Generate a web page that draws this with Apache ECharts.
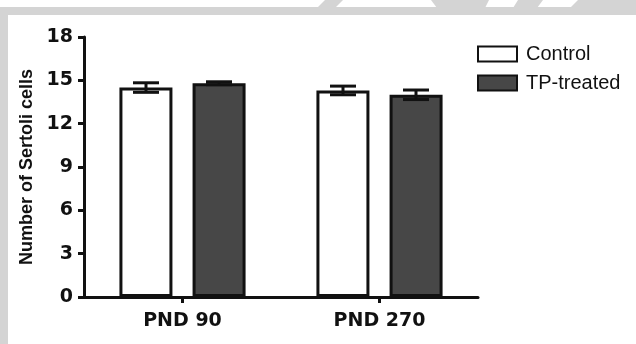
<!DOCTYPE html>
<html>
<head>
<meta charset="utf-8">
<script src="https://cdn.jsdelivr.net/npm/echarts@6/dist/echarts.min.js"></script>
<style>
html,body{margin:0;padding:0;background:#fff;}
#chart{width:636px;height:344px;}
</style>
</head>
<body>
<div id="chart"></div>
<script>
// ---- data ----
const categories = ['PND 90', 'PND 270'];
const controlMean = [14.5, 14.3];
const controlErr = [0.33, 0.3];
const treatedMean = [14.8, 14.0];
const treatedErr = [0.1, 0.33];
const yTicks = [0, 3, 6, 9, 12, 15, 18];
const seriesNames = ['Control', 'TP-treated'];

const chart = echarts.init(document.getElementById('chart'), null, {renderer: 'canvas'});

const BAR_OFFSET = 36.5;
const CAP_HALF = 13;

function errRender(offset) {
  return function (params, api) {
    const ci = api.value(0);
    const m = api.value(1);
    const e = api.value(2);
    const x = api.coord([ci, m])[0] + offset;
    const yHi = api.coord([ci, m + e])[1];
    const yLo = api.coord([ci, m - e])[1];
    const st = {stroke: '#111', lineWidth: 3};
    return {
      type: 'group',
      children: [
        {type: 'line', shape: {x1: x, y1: yHi, x2: x, y2: yLo}, style: st},
        {type: 'line', shape: {x1: x - CAP_HALF, y1: yHi, x2: x + CAP_HALF, y2: yHi}, style: st},
        {type: 'line', shape: {x1: x - CAP_HALF, y1: yLo, x2: x + CAP_HALF, y2: yLo}, style: st}
      ]
    };
  };
}

const gray = '#d4d4d4';
const option = {
  backgroundColor: '#ffffff',
  animation: false,
  graphic: [
    {type: 'polygon', shape: {points: [[325, 0], [343, 0], [335, 8], [317, 8]]}, style: {fill: gray}, silent: true},
    {type: 'polygon', shape: {points: [[431, 0], [489, 0], [485, 8], [437, 8]]}, style: {fill: gray}, silent: true},
    {type: 'polygon', shape: {points: [[518, 0], [543, 0], [537, 8], [513, 8]]}, style: {fill: gray}, silent: true},
    {type: 'polygon', shape: {points: [[578, 0], [636, 0], [636, 8], [570, 8]]}, style: {fill: gray}, silent: true},
    {type: 'rect', shape: {x: 0, y: 7, width: 636, height: 8}, style: {fill: gray}, silent: true},
    {type: 'rect', shape: {x: 0, y: 7, width: 8, height: 337}, style: {fill: gray}, silent: true}
  ],
  grid: {left: 84, right: 158, top: 37, bottom: 47, containLabel: false},
  legend: {
    data: seriesNames,
    orient: 'vertical',
    left: 477,
    top: 44,
    padding: 0,
    icon: 'rect',
    itemWidth: 39,
    itemHeight: 15,
    itemGap: 9,
    textStyle: {fontFamily: 'Liberation Sans, Arial, sans-serif', fontSize: 20, color: '#111', padding: [0, 0, 0, 4]}
  },
  xAxis: {
    type: 'category',
    data: categories,
    boundaryGap: true,
    axisLine: {lineStyle: {color: '#111', width: 3}},
    axisTick: {show: true, alignWithLabel: true, length: 6, lineStyle: {color: '#111', width: 3}},
    axisLabel: {margin: 15, fontFamily: 'DejaVu Sans, sans-serif', fontWeight: 'bold', fontSize: 19, color: '#111'},
    splitLine: {show: false}
  },
  yAxis: {
    type: 'value',
    min: 0,
    max: 18,
    interval: 3,
    name: 'Number of Sertoli cells',
    nameLocation: 'middle',
    nameRotate: 90,
    nameGap: 42,
    nameTextStyle: {fontFamily: 'Liberation Sans, Arial, sans-serif', fontWeight: 'bold', fontSize: 18, color: '#111'},
    axisLine: {show: true, lineStyle: {color: '#111', width: 3}},
    axisTick: {show: true, length: 6, lineStyle: {color: '#111', width: 3}},
    axisLabel: {margin: 11, fontFamily: 'DejaVu Sans, sans-serif', fontWeight: 'bold', fontSize: 19, color: '#111',
      formatter: function (v) { return yTicks.indexOf(v) >= 0 ? String(v) : ''; }},
    splitLine: {show: false}
  },
  series: [
    {
      name: seriesNames[0], type: 'bar', data: controlMean,
      barWidth: 53, barGap: '38%',
      itemStyle: {color: '#ffffff', borderColor: '#111', borderWidth: 3},
      z: 2
    },
    {
      name: seriesNames[1], type: 'bar', data: treatedMean,
      barWidth: 53, barGap: '38%',
      itemStyle: {color: '#474747', borderColor: '#111', borderWidth: 3},
      z: 2
    },
    {
      name: 'errControl', type: 'custom', z: 5,
      renderItem: errRender(-BAR_OFFSET),
      data: categories.map((c, i) => [i, controlMean[i], controlErr[i]])
    },
    {
      name: 'errTreated', type: 'custom', z: 5,
      renderItem: errRender(BAR_OFFSET),
      data: categories.map((c, i) => [i, treatedMean[i], treatedErr[i]])
    }
  ]
};
chart.setOption(option);
</script>
</body>
</html>
